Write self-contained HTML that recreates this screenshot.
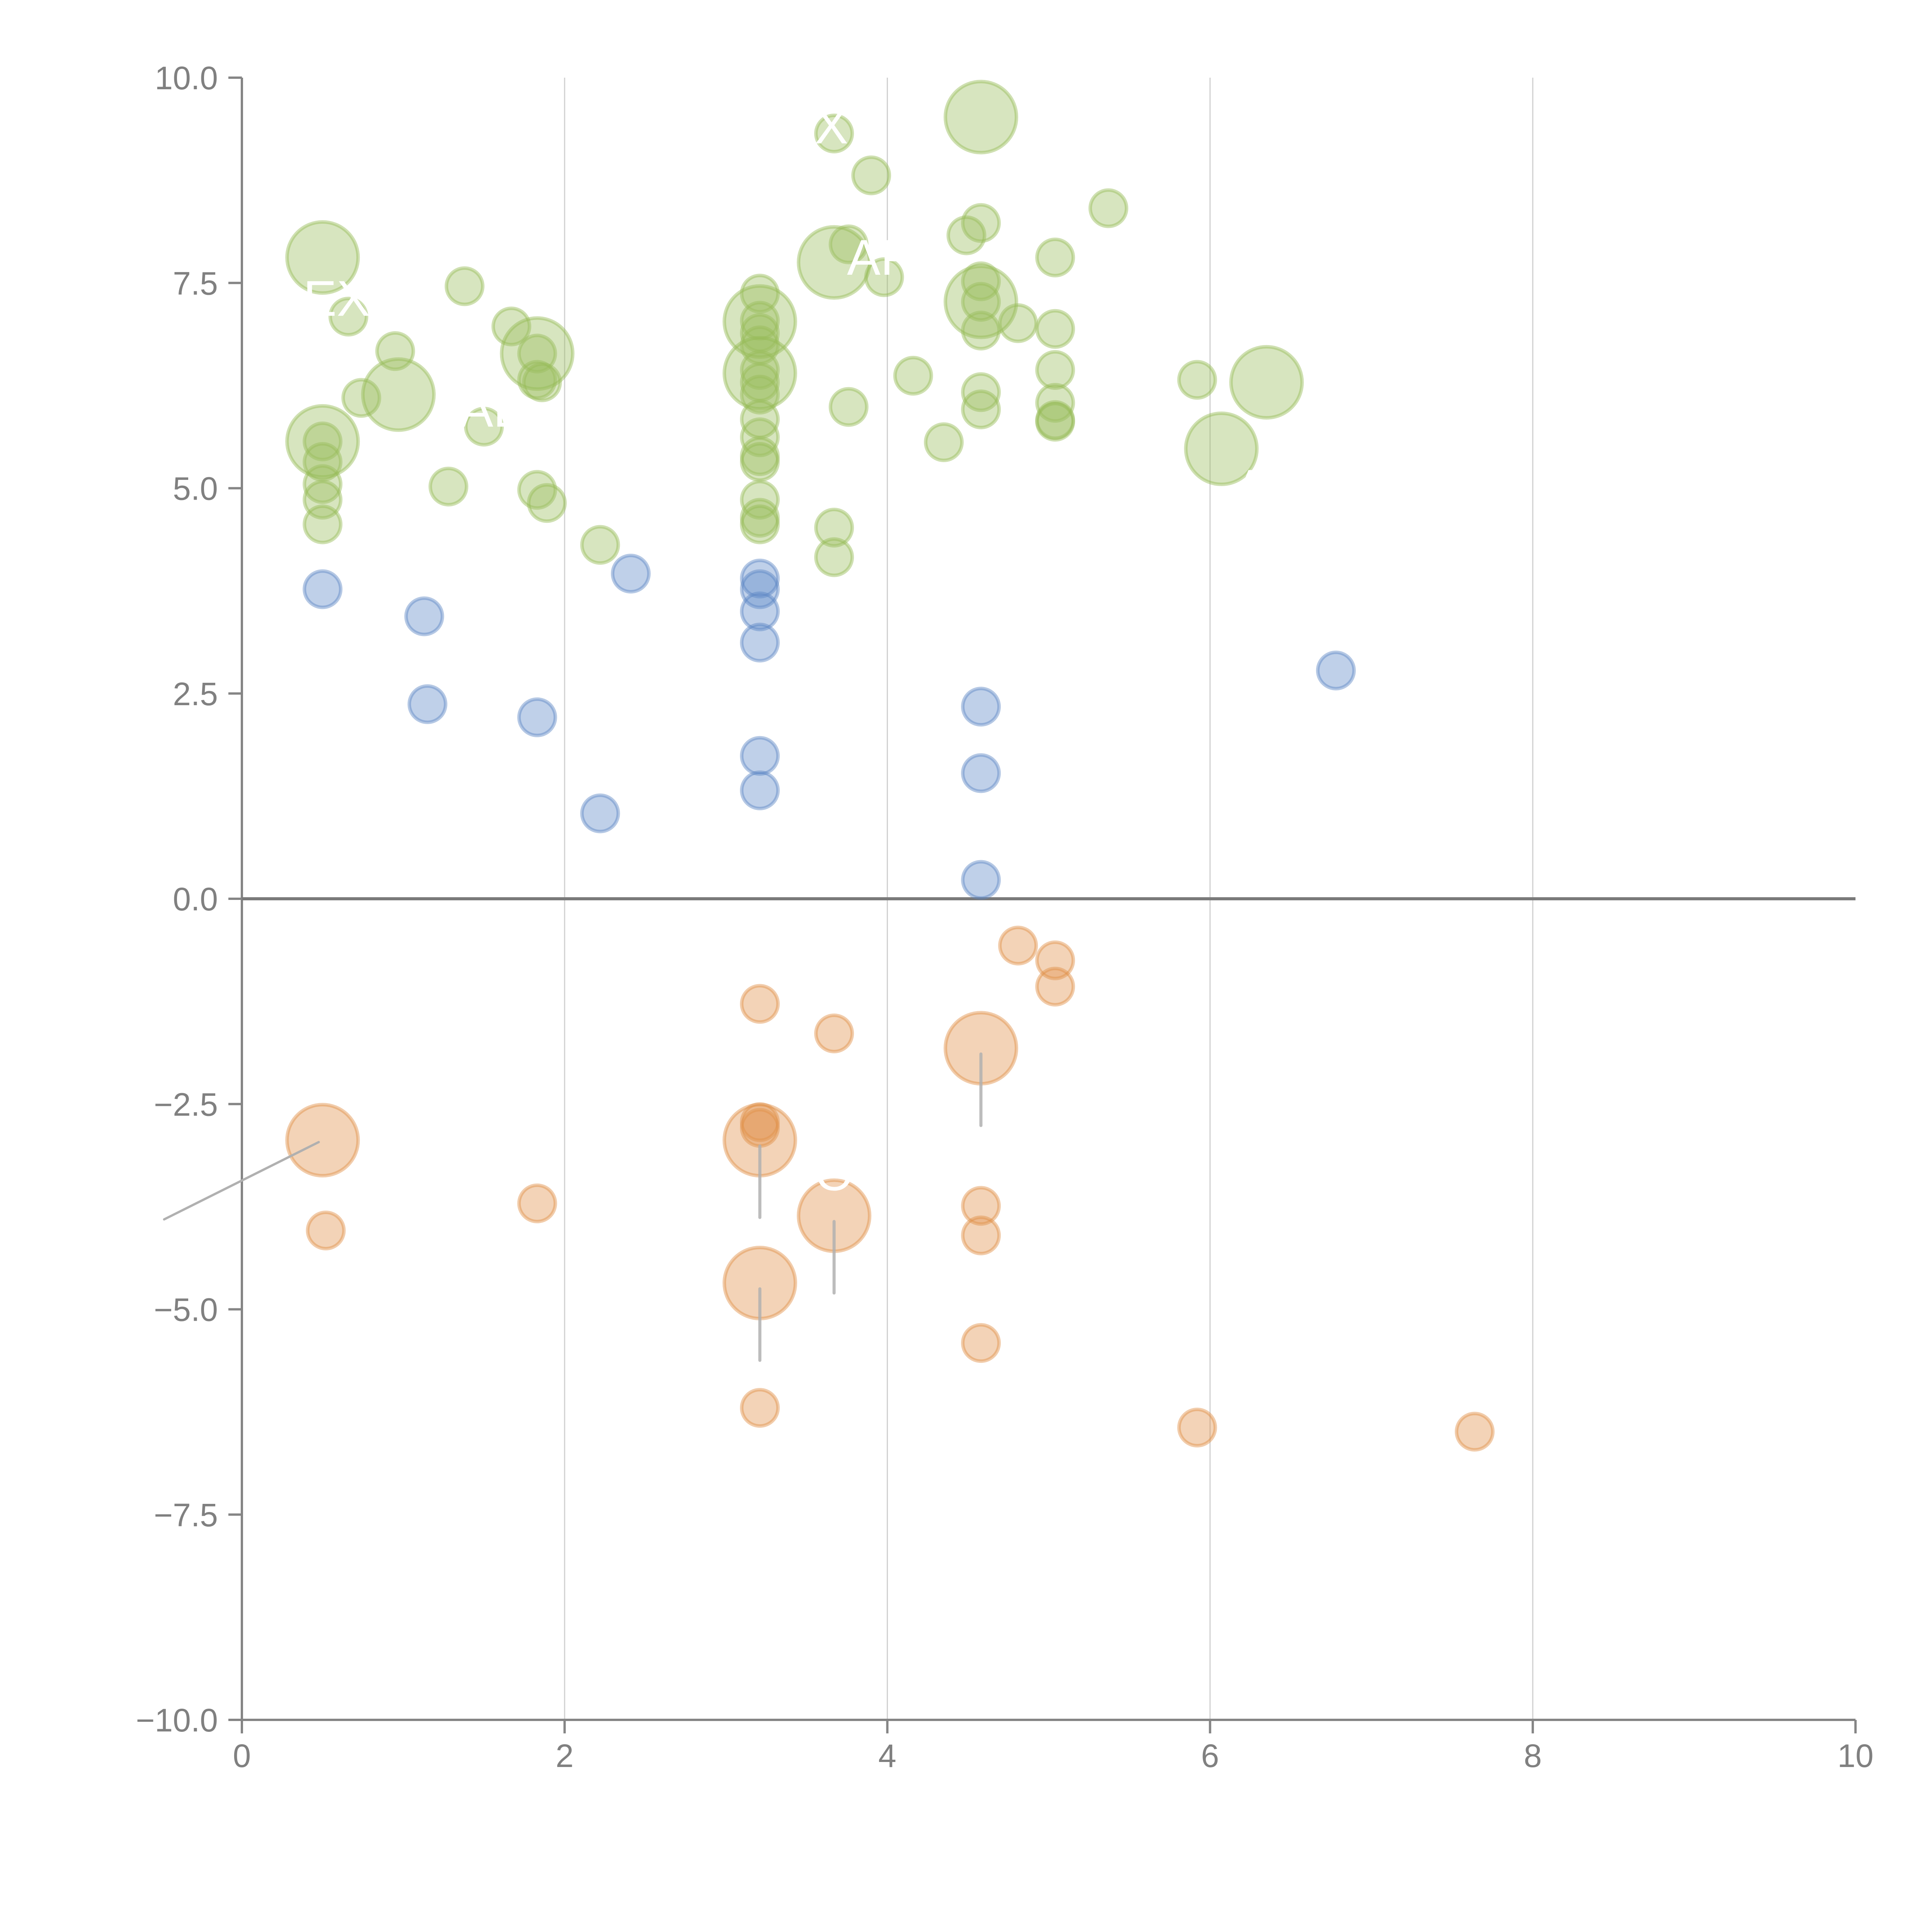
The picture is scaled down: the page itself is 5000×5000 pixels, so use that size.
<!DOCTYPE html>
<html><head><meta charset="utf-8"><style>html,body{margin:0;padding:0;background:#fff;}svg{display:block;}</style></head>
<body>
<svg id="chart" width="5000" height="5000" viewBox="0 0 5000 5000" xmlns="http://www.w3.org/2000/svg" font-family="Liberation Sans, Arial, sans-serif"></svg>
<script>
const xTicks=[0,2,4,6,8,10];
const yTicks=[10,7.5,5,2.5,0,-2.5,-5,-7.5,-10];
const yTickLabels=["10.0","7.5","5.0","2.5","0.0","\u22122.5","\u22125.0","\u22127.5","\u221210.0"];
const greenX=[3.67,3.90,3.76,4.58,4.49,5.37,5.04,3.98,3.21,1.38,0.66,1.67,0.95,0.74,1.83,1.83,1.86,4.81,5.04,4.58,4.58,4.58,4.16,3.76,4.58,4.58,5.04,5.04,5.04,5.04,5.92,4.35,1.50,1.28,1.83,1.89,2.22,0.50,0.50,0.50,0.50,0.50,3.21,3.21,3.21,3.21,3.21,3.21,3.21,3.21,3.21,3.21,3.21,3.21,3.21,3.67,3.67,
4.58,0.50,3.67,3.21,4.58,1.83,0.97,3.21,0.50,6.35,6.07];
const greenY=[9.32,8.81,7.97,8.23,8.08,8.41,7.81,7.57,7.37,7.46,7.09,6.97,6.67,6.10,6.64,6.32,6.29,7.01,6.94,6.92,7.52,7.27,6.37,5.99,6.17,5.96,6.44,6.04,5.83,5.81,6.32,5.56,5.75,5.02,4.98,4.82,4.31,5.57,5.32,5.05,4.86,4.56,5.62,5.39,5.32,4.86,4.64,4.56,7.04,6.89,6.74,6.44,6.29,6.14,5.84,4.52,4.16,
9.52,7.81,7.75,7.03,7.27,6.64,6.14,6.40,5.57,6.29,5.48];
const greenSize=[1,1,1,1,1,1,1,1,1,1,1,1,1,1,1,1,1,1,1,1,1,1,1,1,1,1,1,1,1,1,1,1,1,1,1,1,1,1,1,1,1,1,1,1,1,1,1,1,1,1,1,1,1,1,1,1,1,
2,2,2,2,2,2,2,2,2,2,2];
const blueX=[0.50,1.13,1.15,1.83,2.22,2.41,3.21,3.21,3.21,3.21,3.21,3.21,4.58,4.58,4.58,6.78];
const blueY=[3.77,3.44,2.37,2.21,1.04,3.96,3.90,3.77,3.50,3.12,1.74,1.32,2.34,1.53,0.23,2.78];
const blueSize=[1,1,1,1,1,1,1,1,1,1,1,1,1,1,1,1];
const orangeX=[4.81,5.04,5.04,3.21,3.67,3.21,3.21,0.52,1.83,4.58,4.58,4.58,3.21,5.92,7.64,4.58,0.50,3.21,3.67,3.21];
const orangeY=[-0.57,-0.75,-1.07,-1.28,-1.64,-2.72,-2.79,-4.04,-3.71,-3.74,-4.10,-5.41,-6.20,-6.44,-6.49,-1.82,-2.94,-2.94,-3.86,-4.68];
const orangeSize=[1,1,1,1,1,1,1,1,1,1,1,1,1,1,1,2,2,2,2,2];

const L=626,R=4802,T=201,B=4451;
const sx=v=>L+(v-0)/10*(R-L);
const sy=v=>B-(v+10)/20*(B-T);
const rad=s=>s>1.5?92:47;
const NS="http://www.w3.org/2000/svg";
const svg=document.getElementById('chart');
function mk(tag,attrs,parent){const e=document.createElementNS(NS,tag);for(const k in attrs)e.setAttribute(k,attrs[k]);(parent||svg).appendChild(e);return e;}

xTicks.forEach(t=>{if(t>0&&t<10){const g=mk('line',{x1:sx(t),x2:sx(t),y1:T,y2:B,stroke:'#d0d0d0','stroke-width':3});

}});
const ya=mk('line',{x1:L,x2:L,y1:T,y2:B,stroke:'#858585','stroke-width':6});


const xa=mk('line',{x1:L,x2:R,y1:B,y2:B,stroke:'#858585','stroke-width':6});


yTicks.forEach((t,i)=>{
 const tk=mk('line',{x1:L-35,x2:L,y1:sy(t),y2:sy(t),stroke:'#858585','stroke-width':6});
 
 
 const tx=mk('text',{x:L-62,y:sy(t)+30,'text-anchor':'end','font-size':84,fill:'#808080'});
 tx.textContent=yTickLabels[i];
 
 
});
xTicks.forEach(t=>{
 const tk=mk('line',{x1:sx(t),x2:sx(t),y1:B,y2:B+35,stroke:'#858585','stroke-width':6});
 
 
 const tx=mk('text',{x:sx(t),y:B+122,'text-anchor':'middle','font-size':84,fill:'#808080'});
 tx.textContent=String(t);
 
 
});
const z=mk('line',{x1:L,x2:R,y1:sy(0),y2:sy(0),stroke:'#7a7a7a','stroke-width':8});



function series(xs,ys,ss,fill,stroke,name){
 xs.forEach((x,i)=>{
  const c=mk('circle',{cx:sx(x),cy:sy(ys[i]),r:rad(ss[i]),fill:fill,'fill-opacity':0.4,stroke:stroke,'stroke-opacity':0.45,'stroke-width':9});
  
  
 });
}
series(greenX,greenY,greenSize,'#9bbf5e','#94bb55','green-bubble');
series(blueX,blueY,blueSize,'#5f8ac8','#5a85c4','blue-bubble');
series(orangeX,orangeY,orangeSize,'#e0904a','#df8d44','orange-bubble');

orangeX.forEach((x,i)=>{
 if(orangeSize[i]<1.5)return;
 const cx=sx(x),cy=sy(orangeY[i]);
 if(x<1){const l=mk('line',{x1:cx-10,y1:cy+5,x2:cx-410,y2:cy+205,stroke:'#b0b0b0','stroke-width':6,'stroke-linecap':'round'});
  
  return;}
 const l=mk('line',{x1:cx,y1:cy+15,x2:cx,y2:cy+200,stroke:'#b0b0b0','stroke-width':8,'stroke-linecap':'round','stroke-opacity':0.85});
 
 
});
const labels=[["OT",sx(3.55),sy(-3.55)],["AP",sx(3.75),sy(7.6)],["EX",sx(0.38),sy(7.1)],["AL",sx(1.35),sy(5.75)],["A",sx(6.15),sy(4.8)],["X",sx(3.55),sy(9.2)]];
labels.forEach(l=>{
 const t=mk('text',{x:l[1],y:l[2],'font-size':130,fill:'#ffffff'});
 t.textContent=l[0];
 
 
});
</script>
</body></html>
